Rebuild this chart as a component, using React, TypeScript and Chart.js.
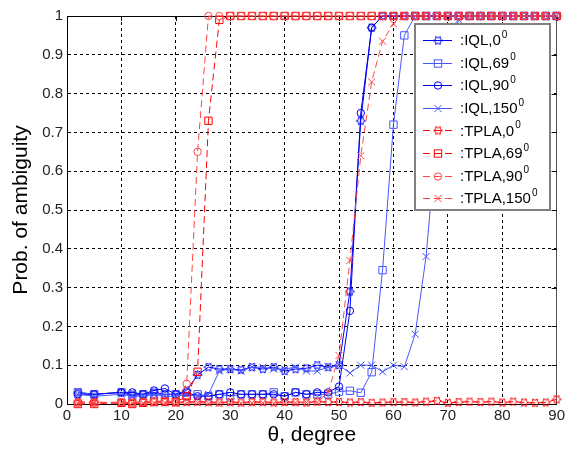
import React, { useEffect, useRef } from 'react';
import { Chart, registerables } from 'chart.js';

Chart.register(...registerables);

const FONT = "'Liberation Sans', Arial, Helvetica, sans-serif";

// angle axis (degrees)
const thetaDeg = [2, 5, 10, 12, 14, 16, 18, 20, 22, 24, 26, 28, 30, 32, 34, 36, 38, 40, 42, 44, 46, 48, 50, 52, 54, 56, 58, 60, 62, 64, 66, 68, 70, 72, 74, 76, 78, 80, 82, 84, 86, 88, 90];

const iql0 = [
  0.030, 0.025, 0.030, 0.025, 0.025, 0.030, 0.025, 0.025,
  0.035, 0.075, 0.095, 0.090, 0.090, 0.088, 0.095, 0.090, 0.095, 0.085,
  0.090, 0.092, 0.100, 0.095, 0.100, 0.290, 0.730, 0.970, 1, 1,
  1, 1, 1, 1, 1, 1, 1, 1, 1, 1, 1, 1, 1, 1, 1,
];
const iql69 = [
  0.030, 0.025, 0.030, 0.020, 0.025, 0.025, 0.025, 0.025,
  0.020, 0.025, 0.020, 0.025, 0.020, 0.025, 0.025, 0.025, 0.030, 0.020,
  0.030, 0.025, 0.025, 0.025, 0.032, 0.034, 0.029, 0.082, 0.345, 0.720,
  0.950, 1, 1, 1, 1, 1, 1, 1, 1, 1, 1, 1, 1, 1, 1,
];
const iql90 = [
  0.025, 0.025, 0.030, 0.030, 0.025, 0.035, 0.040, 0.025,
  0.030, 0.020, 0.020, 0.025, 0.030, 0.025, 0.025, 0.025, 0.025, 0.020,
  0.030, 0.025, 0.030, 0.030, 0.045, 0.240, 0.750, 0.970, 1, 1,
  1, 1, 1, 1, 1, 1, 1, 1, 1, 1, 1, 1, 1, 1, 1,
];
const iql150 = [
  0.025, 0.020, 0.025, 0.020, 0.020, 0.025, 0.020, 0.020,
  0.025, 0.020, 0.025, 0.085, 0.090, 0.085, 0.095, 0.095, 0.090, 0.090,
  0.095, 0.085, 0.085, 0.095, 0.100, 0.080, 0.100, 0.100, 0.083, 0.100,
  0.096, 0.180, 0.380, 0.700, 0.920, 0.990, 1, 1, 1, 1, 1, 1, 1, 1, 1,
];
const tpla0 = [
  0.005, 0.005, 0.003, 0.004, 0.005, 0.006, 0.005, 0.004,
  0.005, 0.006, 0.005, 0.004, 0.005, 0.004, 0.005, 0.005, 0.004, 0.005,
  0.005, 0.004, 0.006, 0.005, 0.005, 0.004, 0.005, 0.003, 0.004, 0.005,
  0.005, 0.004, 0.006, 0.008, 0.003, 0.005, 0.006, 0.005, 0.006, 0.004, 0.006, 0.004, 0.003, 0.004, 0.012,
];
const tpla69 = [
  0.000, 0.000, 0.003, 0.000, 0.003, 0.005, 0.006, 0.005,
  0.020, 0.083, 0.730, 0.990, 1, 1, 1, 1, 1, 1,
  1, 1, 1, 1, 1, 1, 1, 1, 1, 1,
  1, 1, 1, 1, 1, 1, 1, 1, 1, 1, 1, 1, 1, 1, 1,
];
const tpla90 = [
  0.003, 0.003, 0.005, 0.003, 0.005, 0.006, 0.008, 0.006,
  0.052, 0.650, 1, 1, 1, 1, 1, 1, 1, 1,
  1, 1, 1, 1, 1, 1, 1, 1, 1, 1,
  1, 1, 1, 1, 1, 1, 1, 1, 1, 1, 1, 1, 1, 1, 1,
];
const tpla150 = [
  0.002, 0.002, 0.003, 0.003, 0.002, 0.003, 0.003, 0.002,
  0.003, 0.003, 0.002, 0.003, 0.003, 0.002, 0.003, 0.003, 0.002, 0.003,
  0.003, 0.004, 0.005, 0.030, 0.125, 0.370, 0.640, 0.830, 0.935, 0.980,
  1, 1, 1, 1, 1, 1, 1, 1, 1, 1, 1, 1, 1, 1, 1,
];

const seriesNames = ['IQL,0', 'IQL,69', 'IQL,90', 'IQL,150', 'TPLA,0', 'TPLA,69', 'TPLA,90', 'TPLA,150'];
const seriesValues = [iql0, iql69, iql90, iql150, tpla0, tpla69, tpla90, tpla150];
const degreeSuperscript = '0';

const xTickValues = [0, 10, 20, 30, 40, 50, 60, 70, 80, 90];
const yTickValues = [0, 0.1, 0.2, 0.3, 0.4, 0.5, 0.6, 0.7, 0.8, 0.9, 1];
const yTickLabels = ['0', '0.1', '0.2', '0.3', '0.4', '0.5', '0.6', '0.7', '0.8', '0.9', '1'];
const xTitle = 'θ, degree';
const yTitle = 'Prob. of ambiguity';

// styles (kept separate from data)
const seriesColors = ['#0000ff', '#4656ff', '#0000e8', '#4656ff', '#ff0000', '#ff0000', '#ff4646', '#ff4646'];
const seriesMarkers = ['hexagram', 'rect', 'circle', 'crossRot', 'hexagram', 'rect', 'circle', 'crossRot'];
const seriesDashed = [false, false, false, false, true, true, true, true];
const markerRadius: Record<string, number> = { hexagram: 4.5, rect: 5.2, circle: 3.7, crossRot: 5 };
const DASH = [7, 4];

function makeHexagram(color: string, r: number): HTMLCanvasElement {
  const size = Math.ceil(2 * r + 3);
  const c = document.createElement('canvas');
  c.width = size;
  c.height = size;
  const g = c.getContext('2d')!;
  g.strokeStyle = color;
  g.lineWidth = 1;
  const cx = size / 2;
  const cy = size / 2;
  const ri = r / Math.sqrt(3);
  g.beginPath();
  for (let k = 0; k < 12; k++) {
    const a = (k * Math.PI) / 6;
    const rr = k % 2 === 0 ? r : ri;
    const px = cx + rr * Math.cos(a);
    const py = cy + rr * Math.sin(a);
    if (k === 0) g.moveTo(px, py);
    else g.lineTo(px, py);
  }
  g.closePath();
  g.stroke();
  return c;
}

function drawMarker(ctx: CanvasRenderingContext2D, style: any, r: number, x: number, y: number, color: string) {
  ctx.save();
  ctx.setLineDash([]);
  ctx.strokeStyle = color;
  ctx.lineWidth = 1;
  if (style instanceof HTMLCanvasElement) {
    ctx.drawImage(style, x - style.width / 2, y - style.height / 2);
  } else if (style === 'rect') {
    const s = Math.SQRT1_2 * r;
    ctx.strokeRect(x - s, y - s, 2 * s, 2 * s);
  } else if (style === 'circle') {
    ctx.beginPath();
    ctx.arc(x, y, r, 0, Math.PI * 2);
    ctx.stroke();
  } else if (style === 'crossRot') {
    const s = Math.SQRT1_2 * r;
    ctx.beginPath();
    ctx.moveTo(x - s, y - s);
    ctx.lineTo(x + s, y + s);
    ctx.moveTo(x - s, y + s);
    ctx.lineTo(x + s, y - s);
    ctx.stroke();
  }
  ctx.restore();
}

export default function App() {
  const ref = useRef<HTMLCanvasElement>(null);

  useEffect(() => {
    const canvas = ref.current!;
    const styles = seriesMarkers.map((m, i) => (m === 'hexagram' ? makeHexagram(seriesColors[i], markerRadius.hexagram) : m));

    const datasets = seriesNames.map((name, i) => ({
      label: name,
      data: seriesValues[i].map((v, j) => ({ x: thetaDeg[j], y: v })),
      borderColor: seriesColors[i],
      backgroundColor: 'rgba(0,0,0,0)',
      borderWidth: 1,
      borderDash: seriesDashed[i] ? DASH : [],
      pointStyle: styles[i] as any,
      pointRadius: markerRadius[seriesMarkers[i]],
      pointHoverRadius: markerRadius[seriesMarkers[i]],
      pointBorderColor: seriesColors[i],
      pointBackgroundColor: 'rgba(0,0,0,0)',
      pointBorderWidth: 1,
      tension: 0,
      clip: false as any,
      order: seriesNames.length - i,
    }));

    const framePlugin = {
      id: 'frame',
      beforeDatasetsDraw(chart: any) {
        const { ctx, chartArea, scales } = chart;
        const { left, right, top, bottom } = chartArea;
        ctx.save();
        ctx.setLineDash([]);
        ctx.lineWidth = 1;
        ctx.strokeStyle = '#000';
        ctx.beginPath();
        ctx.moveTo(left, Math.round(top) + 0.5);
        ctx.lineTo(right, Math.round(top) + 0.5);
        ctx.stroke();
        ctx.strokeStyle = '#505050';
        ctx.beginPath();
        ctx.moveTo(Math.round(right) - 0.5, top);
        ctx.lineTo(Math.round(right) - 0.5, bottom);
        ctx.stroke();
        ctx.strokeStyle = '#000';
        ctx.beginPath();
        yTickValues.forEach((v) => {
          const py = Math.round(scales.y.getPixelForValue(v)) + 0.5;
          ctx.moveTo(right - 5, py);
          ctx.lineTo(right, py);
        });
        xTickValues.forEach((v) => {
          const px = Math.round(scales.x.getPixelForValue(v)) + 0.5;
          ctx.moveTo(px, top);
          ctx.lineTo(px, top + 5);
        });
        ctx.stroke();
        ctx.restore();
      },
    };

    const legendPlugin = {
      id: 'matlabLegend',
      afterDraw(chart: any) {
        const { ctx, chartArea } = chart;
        const bx = Math.round(chartArea.right - 142);
        const by = Math.round(chartArea.top + 8);
        const bw = 135;
        const bh = 186;
        ctx.save();
        ctx.setLineDash([]);
        ctx.fillStyle = '#fff';
        ctx.fillRect(bx, by, bw, bh);
        ctx.strokeStyle = '#808080';
        ctx.lineWidth = 2;
        ctx.strokeRect(bx, by, bw, bh);
        seriesNames.forEach((name, i) => {
          const cy = by + 16 + 22.6 * i;
          const ly = Math.round(cy) + 0.5;
          ctx.strokeStyle = seriesColors[i];
          ctx.lineWidth = 1;
          ctx.setLineDash(seriesDashed[i] ? DASH : []);
          ctx.beginPath();
          ctx.moveTo(bx + 8, ly);
          ctx.lineTo(bx + 37, ly);
          ctx.stroke();
          ctx.setLineDash([]);
          drawMarker(ctx, styles[i], markerRadius[seriesMarkers[i]], bx + 23, ly, seriesColors[i]);
          ctx.fillStyle = '#000';
          ctx.textBaseline = 'middle';
          ctx.textAlign = 'left';
          ctx.font = `15px ${FONT}`;
          const txt = ':' + name;
          ctx.fillText(txt, bx + 45, cy + 1);
          const w = ctx.measureText(txt).width;
          ctx.font = `10px ${FONT}`;
          ctx.fillText(degreeSuperscript, bx + 45 + w + 1, cy - 5);
        });
        ctx.restore();
      },
    };

    const chart = new Chart(canvas, {
      type: 'line',
      data: { datasets },
      options: {
        animation: false,
        responsive: false,
        maintainAspectRatio: false,
        layout: { padding: { left: 0, top: 16, right: 8, bottom: 0 } },
        plugins: {
          legend: { display: false },
          tooltip: { enabled: false },
          title: { display: false },
        },
        scales: {
          x: {
            type: 'linear',
            min: 0,
            max: 90,
            afterBuildTicks: (s: any) => {
              s.ticks = xTickValues.map((v) => ({ value: v }));
            },
            afterFit: (s: any) => {
              s.height = 50;
            },
            ticks: {
              autoSkip: false,
              maxRotation: 0,
              padding: 3,
              color: '#222',
              font: { size: 15, family: FONT },
              callback: (v: any) => String(v),
            },
            grid: { color: '#000', lineWidth: 1, drawTicks: false },
            border: { display: true, color: '#000', width: 1, dash: [3, 3] },
            title: {
              display: true,
              text: xTitle,
              color: '#000',
              font: { size: 21, family: FONT },
              padding: { top: 0, bottom: 6 },
            },
          },
          y: {
            type: 'linear',
            min: 0,
            max: 1,
            afterBuildTicks: (s: any) => {
              s.ticks = yTickValues.map((v) => ({ value: v }));
            },
            afterFit: (s: any) => {
              s.width = 67;
            },
            ticks: {
              autoSkip: false,
              padding: 4,
              color: '#222',
              font: { size: 15, family: FONT },
              callback: (_v: any, idx: number) => yTickLabels[idx],
            },
            grid: { color: '#000', lineWidth: 1, drawTicks: false },
            border: { display: true, color: '#000', width: 1, dash: [3, 3] },
            title: {
              display: true,
              text: yTitle,
              color: '#000',
              font: { size: 21, family: FONT },
              padding: { top: 9, bottom: 0 },
            },
          },
        },
      },
      plugins: [framePlugin, legendPlugin],
    } as any);

    return () => chart.destroy();
  }, []);

  return (
    <div style={{ position: 'absolute', left: 0, top: 0, width: 568, height: 454, background: '#fff' }}>
      <canvas ref={ref} width={568} height={454} style={{ display: 'block', width: 568, height: 454 }} />
    </div>
  );
}
